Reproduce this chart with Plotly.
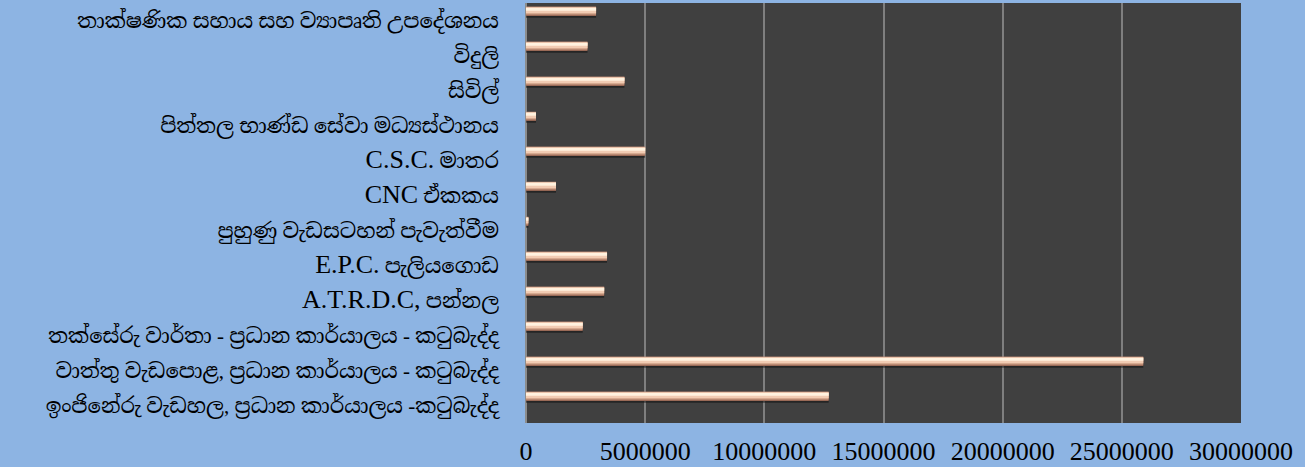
import re
import plotly.graph_objects as go

# Categories listed bottom-to-top (Plotly category order)
categories = [
    "ඉංජිනේරු වැඩහල, ප්‍රධාන කාර්යාලය -කටුබැද්ද",
    "වාත්තු වැඩපොළ, ප්‍රධාන කාර්යාලය - කටුබැද්ද",
    "තක්සේරු වාර්තා - ප්‍රධාන කාර්යාලය - කටුබැද්ද",
    "A.T.R.D.C, පන්නල",
    "E.P.C. පැලියගොඩ",
    "පුහුණු වැඩසටහන් පැවැත්වීම",
    "CNC ඒකකය",
    "C.S.C. මාතර",
    "පිත්තල භාණ්ඩ සේවා මධ්‍යස්ථානය",
    "සිවිල්",
    "විදුලි",
    "තාක්ෂණික සහාය සහ ව්‍යාපෘති උපදේශනය",
]
values = [
    12700000,
    25900000,
    2380000,
    3280000,
    3400000,
    100000,
    1260000,
    5000000,
    420000,
    4130000,
    2580000,
    2940000,
]
x_tick_vals = [0, 5000000, 10000000, 15000000, 20000000, 25000000, 30000000]
x_tick_text = ["0", "5000000", "10000000", "15000000", "20000000", "25000000", "30000000"]

FONT = "Liberation Serif, Noto Serif Sinhala, Noto Sans Sinhala, Iskoola Pota, serif"


def label_markup(s):
    # Latin runs are shown a little larger than the Sinhala script, as in the source
    return re.sub(r"([A-Za-z][A-Za-z.,]*(?: [A-Za-z][A-Za-z.,]*)*)",
                  r'<span style="font-size:26px">\1</span>', s)


fig = go.Figure()

# layered bars imitate the cylinder-like gradient with a soft shadow
base_off = 0.13
W = 0.26
layers = [
    # (color, start within bar, end within bar)
    ("rgba(15,15,15,0.55)", -0.05, 0.20),   # shadow below
    ("#9a6a57", 0.0, W),                    # dark lower edge
    ("#d7a98f", 0.045, W),
    ("#f2ccb3", 0.085, W - 0.01),
    ("#fff2df", 0.15, W - 0.03),            # highlight
]
for color, a, b in layers:
    fig.add_trace(go.Bar(
        y=categories, x=values, orientation="h",
        marker=dict(color=color, line=dict(width=0)),
        width=b - a, offset=base_off + a,
        hoverinfo="skip", showlegend=False,
    ))

fig.update_layout(
    width=1305, height=467,
    paper_bgcolor="#8db4e3",
    plot_bgcolor="#404040",
    barmode="overlay",
    margin=dict(l=526, r=64, t=3, b=44, autoexpand=False),
    font=dict(family=FONT, color="black"),
    showlegend=False,
)
fig.update_xaxes(
    range=[0, 30000000],
    tickvals=x_tick_vals, ticktext=x_tick_text,
    showgrid=True, gridcolor="#7f7f7f", gridwidth=2,
    zeroline=True, zerolinecolor="#8c8c8c", zerolinewidth=2,
    tickfont=dict(family=FONT, size=26, color="black"),
    ticks="", ticklabelstandoff=10, automargin=False,
)
fig.update_yaxes(
    type="category",
    categoryorder="array", categoryarray=categories,
    tickvals=categories, ticktext=[label_markup(c) for c in categories],
    showgrid=False, zeroline=False,
    tickfont=dict(family=FONT, size=21, color="black"),
    ticks="", ticklabelstandoff=26, automargin=False,
)

fig.write_html(
    "out.html",
    config={"displayModeBar": False},
    post_script="document.body.style.margin='0px';document.body.style.overflow='hidden';",
)
